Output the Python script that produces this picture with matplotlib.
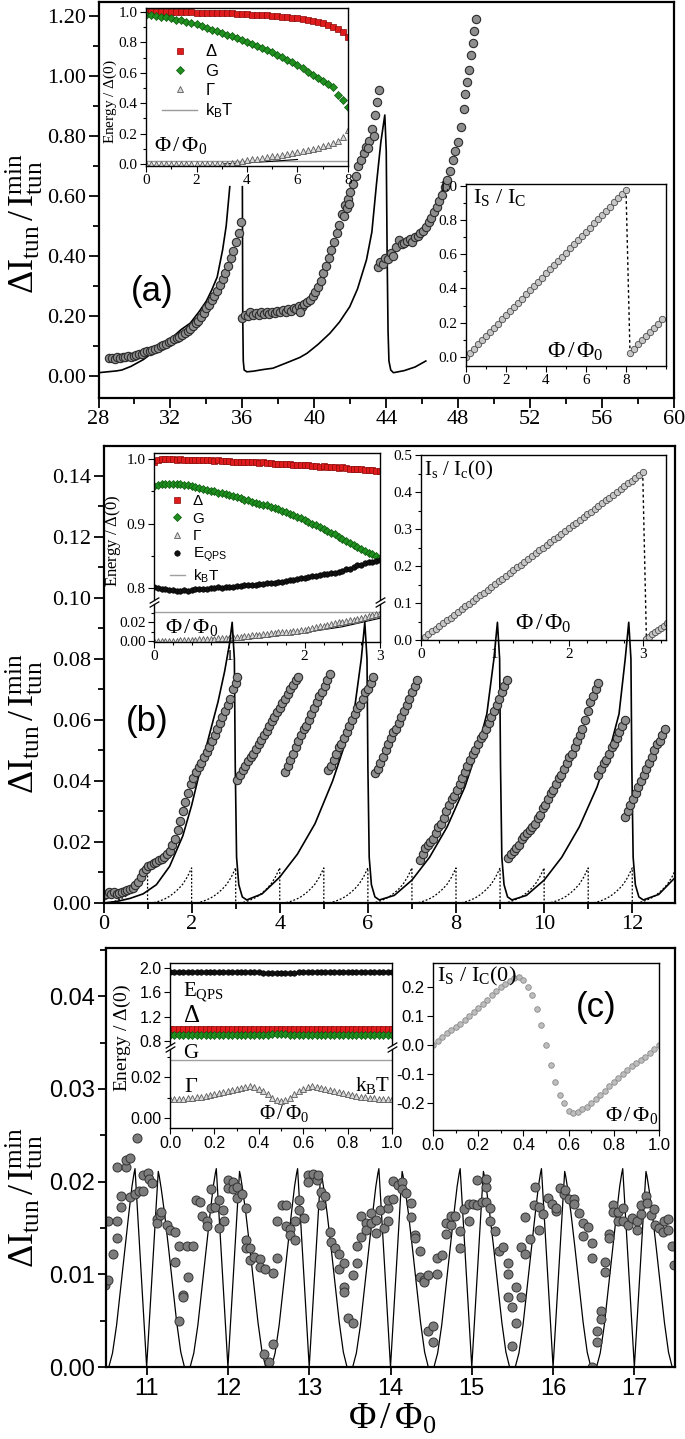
import numpy as np
import matplotlib
matplotlib.use("Agg")
import matplotlib.pyplot as plt
from matplotlib.ticker import MultipleLocator, FormatStrFormatter, FixedLocator
from matplotlib.font_manager import FontProperties

# ---------------- panel (a): main ----------------
a_x1 = [28.6, 28.75, 28.9, 29.05, 29.2, 29.35, 29.5, 29.65, 29.8, 29.95,
        30.1, 30.25, 30.4, 30.55, 30.7, 30.85, 31.0, 31.15, 31.3, 31.45,
        31.6, 31.75, 31.9, 32.05, 32.2, 32.35, 32.5, 32.65, 32.8, 32.95,
        33.1, 33.25, 33.4, 33.55, 33.7, 33.85, 34.0, 34.15, 34.3, 34.45,
        34.6, 34.75, 34.9, 35.05, 35.2, 35.35, 35.5, 35.65, 35.8, 35.95]
a_y1 = [0.059, 0.061, 0.058, 0.062, 0.060, 0.063, 0.062, 0.066, 0.064, 0.068,
        0.070, 0.072, 0.075, 0.079, 0.082, 0.084, 0.088, 0.090, 0.095, 0.100,
        0.104, 0.108, 0.112, 0.118, 0.122, 0.126, 0.131, 0.138, 0.142, 0.150,
        0.158, 0.166, 0.176, 0.184, 0.196, 0.210, 0.226, 0.238, 0.252, 0.268,
        0.284, 0.305, 0.322, 0.342, 0.368, 0.392, 0.418, 0.448, 0.478, 0.512]
a_x2 = [36.0, 36.15, 36.3, 36.45, 36.6, 36.75, 36.9, 37.05, 37.2, 37.35,
        37.5, 37.65, 37.8, 37.95, 38.1, 38.25, 38.4, 38.55, 38.7, 38.85,
        39.0, 39.15, 39.3, 39.45, 39.6, 39.75, 39.9, 40.05, 40.2, 40.35,
        40.5, 40.65, 40.8, 40.95, 41.1, 41.25, 41.4, 41.55, 41.7, 41.85,
        42.0, 42.15, 42.3, 42.45, 42.6, 42.75, 42.9, 43.05, 43.2, 43.35,
        43.5, 43.6, 41.65, 41.8, 41.95, 43.0, 43.3, 39.2]
a_y2 = [0.192, 0.205, 0.200, 0.212, 0.205, 0.210, 0.203, 0.215, 0.208, 0.212,
        0.206, 0.215, 0.210, 0.218, 0.212, 0.220, 0.214, 0.222, 0.216, 0.226,
        0.222, 0.232, 0.230, 0.240, 0.246, 0.255, 0.268, 0.280, 0.298, 0.318,
        0.342, 0.368, 0.392, 0.420, 0.448, 0.478, 0.505, 0.540, 0.570, 0.590,
        0.612, 0.640, 0.668, 0.700, 0.720, 0.745, 0.765, 0.785, 0.825, 0.870,
        0.915, 0.955, 0.535, 0.560, 0.575, 0.760, 0.800, 0.215]
a_x3 = [43.55, 43.65, 43.8, 43.95, 44.1, 44.25, 44.4, 44.55, 44.7, 44.85,
        45.0, 45.15, 45.3, 45.45, 45.6, 45.75, 45.9, 46.05, 46.2, 46.35,
        46.5, 46.65, 46.8, 46.95, 47.1, 47.25, 47.4, 47.55, 47.7, 47.85,
        48.0, 48.15, 48.3, 48.4, 48.5, 48.6, 48.7, 48.8, 48.9, 48.97]
a_y3 = [0.364, 0.380, 0.372, 0.395, 0.390, 0.410, 0.400, 0.430, 0.452, 0.440,
        0.445, 0.450, 0.458, 0.448, 0.462, 0.468, 0.476, 0.485, 0.498, 0.512,
        0.528, 0.546, 0.565, 0.585, 0.605, 0.630, 0.655, 0.685, 0.720, 0.750,
        0.780, 0.830, 0.890, 0.940, 0.980, 1.020, 1.070, 1.110, 1.150, 1.190]
nan = np.nan
a_line_x = [28.0, 28.5, 29.0, 29.3, 29.8, 30.5, 31.2, 31.9, 32.6, 33.1,
            33.6, 34.0, 34.3, 34.6, 34.9, 35.1, 35.3, nan,
            36.0, 36.02, 36.05, 36.1, 36.25, 36.6, 37.2, 37.7, 38.5, 39.2,
            39.6, 40.2, 40.86, 41.4, 41.97, 42.4, 42.9, 43.2, 43.46, 43.7,
            43.92, 44.0, 44.05, 44.1, 44.15, 44.25, 44.4, 45.0, 45.6, 46.2]
a_line_y = [0.011, 0.014, 0.017, 0.020, 0.032, 0.055, 0.087, 0.118, 0.155, 0.176,
            0.215, 0.250, 0.287, 0.330, 0.420, 0.500, 0.631, nan,
            0.631, 0.200, 0.050, 0.020, 0.014, 0.016, 0.022, 0.026, 0.045, 0.062,
            0.076, 0.105, 0.142, 0.180, 0.231, 0.290, 0.387, 0.480, 0.642, 0.780,
            0.870, 0.750, 0.400, 0.150, 0.050, 0.020, 0.011, 0.018, 0.030, 0.050]

# panel (a), inset with energies
a1_x = [0.0, 0.2, 0.4, 0.6, 0.8, 1.0, 1.2, 1.4, 1.6, 1.8,
        2.0, 2.2, 2.4, 2.6, 2.8, 3.0, 3.2, 3.4, 3.6, 3.8,
        4.0, 4.2, 4.4, 4.6, 4.8, 5.0, 5.2, 5.4, 5.6, 5.8,
        6.0, 6.2, 6.4, 6.6, 6.8, 7.0, 7.2, 7.4, 7.6, 7.8, 8.0]
a1_delta = [1.000, 1.000, 1.000, 0.999, 0.999, 0.999, 0.998, 0.998, 0.997, 0.997,
            0.996, 0.996, 0.995, 0.994, 0.993, 0.992, 0.991, 0.990, 0.988, 0.987,
            0.985, 0.983, 0.981, 0.979, 0.977, 0.974, 0.971, 0.968, 0.965, 0.961,
            0.957, 0.952, 0.947, 0.941, 0.934, 0.926, 0.916, 0.904, 0.888, 0.866, 0.838]
a1_g = [0.980, 0.978, 0.974, 0.970, 0.966, 0.960, 0.950, 0.944, 0.936, 0.928,
        0.918, 0.906, 0.895, 0.884, 0.872, 0.860, 0.850, 0.839, 0.828, 0.816,
        0.805, 0.792, 0.778, 0.765, 0.750, 0.735, 0.720, 0.705, 0.686, 0.668,
        0.650, 0.630, 0.608, 0.588, 0.566, 0.545, 0.526, 0.505, 0.455, 0.420, 0.377]
a1_gamma = [0.0, 0.0, 0.0, 0.0, 0.0, 0.0, 0.0, 0.0, 0.0, 0.0,
            0.0, 0.0, 0.0, 0.0, 0.0, 0.0, 0.003, 0.007, 0.012, 0.018,
            0.025, 0.030, 0.035, 0.040, 0.045, 0.050, 0.055, 0.060, 0.066, 0.072,
            0.078, 0.085, 0.092, 0.100, 0.108, 0.116, 0.125, 0.136, 0.150, 0.180, 0.225]
a1_kbt = 0.022
a1_thx = [3.0, 4.0, 5.0, 6.0]
a1_thy = [0.0, 0.008, 0.018, 0.030]

# panel (a), inset with supercurrent
a2_x1 = a1_x
a2_y1 = [0.000, 0.024, 0.049, 0.073, 0.098, 0.122, 0.146, 0.171, 0.195, 0.219,
         0.244, 0.268, 0.293, 0.317, 0.341, 0.366, 0.390, 0.414, 0.439, 0.463,
         0.488, 0.512, 0.536, 0.561, 0.585, 0.609, 0.634, 0.658, 0.683, 0.707,
         0.731, 0.756, 0.780, 0.804, 0.829, 0.853, 0.878, 0.902, 0.926, 0.951, 0.975]
a2_x2 = [8.2, 8.4, 8.6, 8.8, 9.0, 9.2, 9.4, 9.6, 9.8]
a2_y2 = [0.025, 0.049, 0.073, 0.098, 0.122, 0.146, 0.171, 0.195, 0.220]

# ---------------- panel (b): main ----------------
b_x = [0.00, 0.06, 0.12, 0.18, 0.24, 0.30, 0.36, 0.42, 0.48, 0.54,
       0.60, 0.66, 0.72, 0.78, 0.84, 0.90, 0.96, 1.02, 1.08, 1.14,
       1.20, 1.26, 1.32, 1.38, 1.44, 1.50, 1.56, 1.62, 1.68, 1.74,
       1.80, 1.86, 1.92, 1.98, 2.04, 2.10, 2.16, 2.22, 2.28, 2.34,
       2.40, 2.46, 2.52, 2.58, 2.64, 2.70, 2.76, 2.82, 2.88, 2.94,
       3.00, 3.04,
       3.04, 3.10, 3.16, 3.22, 3.28, 3.34, 3.40, 3.46, 3.52, 3.58,
       3.64, 3.70, 3.76, 3.82, 3.88, 3.94, 4.00, 4.06, 4.12, 4.18,
       4.24, 4.30, 4.36, 4.42,
       4.12, 4.18, 4.24, 4.30, 4.36, 4.42, 4.48, 4.54, 4.60, 4.66,
       4.72, 4.78, 4.84, 4.90, 4.96, 5.02, 5.08, 5.14,
       5.10, 5.16, 5.22, 5.28, 5.34, 5.40, 5.46, 5.52, 5.58, 5.64,
       5.70, 5.76, 5.82, 5.88, 5.94, 6.00, 6.06, 6.12,
       6.16, 6.22, 6.28, 6.34, 6.40, 6.46, 6.52, 6.58, 6.64, 6.70,
       6.76, 6.82, 6.88, 6.94, 7.00, 7.06, 7.12,
       7.18, 7.24, 7.30, 7.36, 7.42, 7.48, 7.54, 7.60, 7.66, 7.72,
       7.78, 7.84, 7.90, 7.96, 8.02, 8.08, 8.14, 8.20, 8.26, 8.32,
       8.38, 8.44, 8.50, 8.56, 8.62, 8.68, 8.74, 8.80, 8.86, 8.92,
       8.98, 9.04, 9.10, 9.16,
       9.19, 9.25, 9.31, 9.37, 9.43, 9.49, 9.55, 9.61, 9.67, 9.73,
       9.79, 9.85, 9.91, 9.97, 10.03, 10.09, 10.15, 10.21, 10.27, 10.33,
       10.39, 10.45, 10.51, 10.57, 10.63, 10.69, 10.75, 10.81, 10.87, 10.93,
       10.99, 11.05, 11.11, 11.17, 11.23,
       11.23, 11.29, 11.35, 11.41, 11.47, 11.53, 11.59, 11.65, 11.71, 11.77, 11.83,
       11.84, 11.90, 11.96, 12.02, 12.08, 12.14, 12.20, 12.26, 12.32, 12.38,
       12.44, 12.50, 12.56, 12.62, 12.68, 12.74]
b_y = [0.0025, 0.0030, 0.0036, 0.0028, 0.0035, 0.0030, 0.0033, 0.0036, 0.0040, 0.0042,
       0.0045, 0.0050, 0.0060, 0.0070, 0.0085, 0.0100, 0.0110, 0.0120, 0.0125, 0.0130,
       0.0135, 0.0140, 0.0145, 0.0150, 0.0160, 0.0170, 0.0190, 0.0210, 0.0240, 0.0270,
       0.0300, 0.0330, 0.0360, 0.0390, 0.0410, 0.0430, 0.0445, 0.0460, 0.0480, 0.0495,
       0.0510, 0.0530, 0.0550, 0.0570, 0.0590, 0.0610, 0.0630, 0.0650, 0.0670, 0.0700,
       0.0720, 0.0740,
       0.0403, 0.0420, 0.0435, 0.0450, 0.0465, 0.0480, 0.0490, 0.0505, 0.0520, 0.0535,
       0.0550, 0.0565, 0.0580, 0.0595, 0.0610, 0.0625, 0.0640, 0.0655, 0.0670, 0.0685,
       0.0700, 0.0715, 0.0730, 0.0740,
       0.043, 0.045, 0.047, 0.049, 0.051, 0.053, 0.055, 0.057, 0.058, 0.060,
       0.062, 0.064, 0.066, 0.068, 0.069, 0.071, 0.073, 0.075,
       0.0436, 0.045, 0.047, 0.049, 0.051, 0.052, 0.054, 0.056, 0.058, 0.060,
       0.062, 0.064, 0.065, 0.067, 0.069, 0.070, 0.072, 0.074,
       0.0425, 0.044, 0.046, 0.048, 0.050, 0.052, 0.054, 0.056, 0.057, 0.059,
       0.061, 0.063, 0.065, 0.067, 0.069, 0.071, 0.073,
       0.014, 0.016, 0.018, 0.019, 0.020, 0.021, 0.023, 0.025, 0.026, 0.028,
       0.030, 0.032, 0.034, 0.035, 0.037, 0.039, 0.041, 0.043, 0.045, 0.047,
       0.049, 0.050, 0.052, 0.054, 0.055, 0.057, 0.059, 0.061, 0.063, 0.065,
       0.067, 0.069, 0.071, 0.073,
       0.0147, 0.016, 0.017, 0.018, 0.019, 0.021, 0.022, 0.023, 0.024, 0.025,
       0.026, 0.028, 0.029, 0.031, 0.032, 0.034, 0.036, 0.037, 0.039, 0.041,
       0.042, 0.044, 0.046, 0.048, 0.049, 0.051, 0.053, 0.055, 0.057, 0.060,
       0.063, 0.066, 0.068, 0.070, 0.072,
       0.042, 0.044, 0.046, 0.047, 0.049, 0.051, 0.052, 0.054, 0.056, 0.058, 0.060,
       0.0283, 0.030, 0.032, 0.034, 0.036, 0.038, 0.040, 0.042, 0.044, 0.046,
       0.048, 0.050, 0.052, 0.053, 0.055, 0.057]
b_line_x = [0.0, 0.3, 0.6, 0.9, 1.2, 1.5, 1.8, 2.0, 2.2, 2.4,
            2.6, 2.75, 2.86, 2.92, 2.97, 2.99, 3.02, 3.07, 3.15, 3.25,
            3.6, 4.0, 4.4, 4.8, 5.2, 5.5, 5.7, 5.85, 5.93, 5.98, 6.00, 6.03, 6.08, 6.16, 6.26,
            6.6, 7.0, 7.4, 7.8, 8.2, 8.5, 8.7, 8.86, 8.94, 8.99, 9.01, 9.04, 9.09, 9.17, 9.27,
            9.6, 10.0, 10.4, 10.8, 11.2, 11.5, 11.7, 11.84, 11.92, 11.97, 11.99, 12.02, 12.07, 12.15, 12.25,
            12.6, 12.95]
b_line_y = [0.0, 0.0005, 0.0015, 0.003, 0.006, 0.012, 0.022, 0.032, 0.044, 0.055,
            0.066, 0.076, 0.085, 0.092, 0.080, 0.045, 0.015, 0.006, 0.002, 0.001,
            0.003, 0.0085, 0.016, 0.026, 0.040, 0.053, 0.064, 0.080, 0.092, 0.080, 0.045, 0.015, 0.006, 0.002, 0.001,
            0.0025, 0.0075, 0.015, 0.025, 0.038, 0.051, 0.062, 0.080, 0.092, 0.080, 0.045, 0.015, 0.006, 0.002, 0.001,
            0.0025, 0.0075, 0.015, 0.025, 0.038, 0.051, 0.062, 0.080, 0.092, 0.080, 0.045, 0.015, 0.006, 0.002, 0.001,
            0.0028, 0.008]
b_dot_dx = [0.0, 0.1, 0.2, 0.3, 0.4, 0.5, 0.6, 0.7, 0.8, 0.9, 1.0]
b_dot_y = [0.0, 0.0, 0.0003, 0.0008, 0.0014, 0.0022, 0.0033, 0.0046, 0.0062, 0.0085, 0.0115]
b_dot_periods = [0, 1, 2, 3, 4, 5, 6, 7, 8, 9, 10, 11, 12]

# panel (b), inset with energies (broken axis)
b1_x = [0.00, 0.05, 0.10, 0.15, 0.20, 0.25, 0.30, 0.35, 0.40, 0.45,
        0.50, 0.55, 0.60, 0.65, 0.70, 0.75, 0.80, 0.85, 0.90, 0.95,
        1.00, 1.05, 1.10, 1.15, 1.20, 1.25, 1.30, 1.35, 1.40, 1.45,
        1.50, 1.55, 1.60, 1.65, 1.70, 1.75, 1.80, 1.85, 1.90, 1.95,
        2.00, 2.05, 2.10, 2.15, 2.20, 2.25, 2.30, 2.35, 2.40, 2.45,
        2.50, 2.55, 2.60, 2.65, 2.70, 2.75, 2.80, 2.85, 2.90, 2.95, 3.00]
b1_delta = [0.996, 0.998, 1.000, 1.000, 1.000, 1.000, 0.999, 1.000, 0.999, 0.999,
            0.999, 0.998, 0.999, 0.998, 0.998, 0.998, 0.997, 0.998, 0.997, 0.997,
            0.997, 0.996, 0.996, 0.996, 0.995, 0.996, 0.995, 0.995, 0.994, 0.995,
            0.994, 0.994, 0.993, 0.993, 0.993, 0.992, 0.992, 0.991, 0.991, 0.991,
            0.990, 0.990, 0.989, 0.989, 0.988, 0.989, 0.988, 0.987, 0.987, 0.986,
            0.987, 0.986, 0.985, 0.985, 0.984, 0.984, 0.983, 0.983, 0.983, 0.982, 0.982]
b1_g = [0.958, 0.960, 0.961, 0.962, 0.962, 0.962, 0.962, 0.961, 0.960, 0.959,
        0.958, 0.957, 0.955, 0.954, 0.952, 0.951, 0.950, 0.948, 0.947, 0.946,
        0.944, 0.943, 0.941, 0.939, 0.937, 0.936, 0.934, 0.932, 0.931, 0.929,
        0.928, 0.926, 0.924, 0.922, 0.920, 0.918, 0.915, 0.913, 0.910, 0.908,
        0.905, 0.903, 0.900, 0.898, 0.895, 0.892, 0.889, 0.886, 0.883, 0.879,
        0.876, 0.873, 0.870, 0.867, 0.864, 0.861, 0.858, 0.855, 0.852, 0.849, 0.846]
b1_eqps = [0.801, 0.800, 0.799, 0.798, 0.797, 0.797, 0.796, 0.796, 0.797, 0.796,
           0.797, 0.798, 0.799, 0.798, 0.799, 0.800, 0.800, 0.801, 0.800, 0.801,
           0.802, 0.802, 0.803, 0.803, 0.804, 0.804, 0.805, 0.805, 0.806, 0.806,
           0.807, 0.808, 0.808, 0.810, 0.810, 0.811, 0.812, 0.813, 0.814, 0.815,
           0.816, 0.817, 0.818, 0.819, 0.820, 0.821, 0.822, 0.823, 0.824, 0.825,
           0.827, 0.829, 0.830, 0.832, 0.835, 0.836, 0.838, 0.840, 0.841, 0.842, 0.843]
b1_gamma = [0.000, 0.000, 0.000, 0.000, 0.000, 0.000, 0.000, 0.001, 0.001, 0.001,
            0.001, 0.001, 0.002, 0.002, 0.002, 0.002, 0.002, 0.003, 0.003, 0.003,
            0.003, 0.004, 0.004, 0.004, 0.005, 0.005, 0.006, 0.006, 0.006, 0.007,
            0.007, 0.008, 0.008, 0.009, 0.009, 0.010, 0.010, 0.011, 0.011, 0.012,
            0.012, 0.013, 0.014, 0.015, 0.016, 0.016, 0.017, 0.018, 0.019, 0.020,
            0.020, 0.021, 0.022, 0.022, 0.023, 0.024, 0.025, 0.026, 0.027, 0.028, 0.029]
b1_kbt = 0.0305
b1_thx = [1.0, 1.5, 2.0, 2.5, 3.0]
b1_thy = [0.0, 0.004, 0.009, 0.015, 0.024]

# panel (b), inset with supercurrent
b2_x1 = b1_x
b2_y1 = [0.000, 0.008, 0.015, 0.023, 0.030, 0.038, 0.045, 0.053, 0.060, 0.068,
         0.076, 0.083, 0.091, 0.098, 0.106, 0.113, 0.121, 0.128, 0.136, 0.143,
         0.151, 0.159, 0.166, 0.174, 0.181, 0.189, 0.196, 0.204, 0.211, 0.219,
         0.227, 0.234, 0.242, 0.249, 0.257, 0.264, 0.272, 0.279, 0.287, 0.294,
         0.302, 0.310, 0.317, 0.325, 0.332, 0.340, 0.347, 0.355, 0.362, 0.370,
         0.378, 0.385, 0.393, 0.400, 0.408, 0.415, 0.423, 0.430, 0.438, 0.445, 0.453]
b2_x2 = [3.05, 3.09, 3.13, 3.17, 3.21, 3.25, 3.29, 3.33]
b2_y2 = [0.003, 0.009, 0.015, 0.021, 0.027, 0.033, 0.039, 0.045]

# ---------------- panel (c): main ----------------
c_x = [10.49, 10.53, 10.53, 10.58, 10.63, 10.63, 10.63, 10.69, 10.69, 10.75,
       10.75, 10.80, 10.79, 10.86, 10.88, 10.91, 10.96, 10.96, 11.02, 11.03,
       11.07, 11.13, 11.13, 11.16, 11.18, 11.25, 11.29, 11.35, 11.35, 11.40,
       11.40, 11.45, 11.45, 11.51, 11.50, 11.57, 11.61, 11.66, 11.68, 11.74,
       11.74, 11.79, 11.79, 11.84, 11.89, 11.89, 11.94, 11.95, 12.00, 12.00,
       12.06, 12.06, 12.11, 12.11, 12.17, 12.22, 12.22, 12.22, 12.27, 12.27,
       12.32, 12.39, 12.39, 12.45, 12.44, 12.50, 12.55, 12.55, 12.60, 12.60,
       12.66, 12.71, 12.71, 12.76, 12.76, 12.82, 12.82, 12.87, 12.87, 12.93,
       12.98, 12.98, 13.05, 13.10, 13.11, 13.15, 13.15, 13.20, 13.25, 13.27,
       13.32, 13.37, 13.37, 13.43, 13.43, 13.43, 13.48, 13.54, 13.54, 13.59,
       13.59, 13.64, 13.64, 13.70, 13.70, 13.76, 13.76, 13.82, 13.82, 13.87,
       13.92, 13.97, 13.97, 13.97, 14.03, 14.03, 14.09, 14.14, 14.14, 14.19,
       14.25, 14.25, 14.30, 14.30, 14.36, 14.36, 14.41, 14.41, 14.46, 14.46,
       14.52, 14.52, 14.57, 14.57, 14.63, 14.68, 14.68, 14.74, 14.74, 14.79,
       14.85, 14.85, 14.90, 14.96, 14.96, 15.01, 15.07, 15.07, 15.12, 15.17,
       15.17, 15.17, 15.23, 15.23, 15.28, 15.34, 15.39, 15.45, 15.45, 15.45,
       15.50, 15.50, 15.55, 15.55, 15.60, 15.60, 15.66, 15.66, 15.72, 15.77,
       15.78, 15.83, 15.83, 15.88, 15.94, 15.99, 16.04, 16.04, 16.09, 16.13,
       16.15, 16.19, 16.26, 16.26, 16.32, 16.37, 16.37, 16.43, 16.48, 16.48,
       16.48, 16.54, 16.54, 16.59, 16.59, 16.64, 16.64, 16.69, 16.69, 16.74,
       16.74, 16.80, 16.80, 16.86, 16.86, 16.92, 16.97, 17.03, 17.03, 17.08,
       17.08, 17.14, 17.16, 17.20, 17.24, 17.25, 17.30, 17.36, 17.41, 17.35,
       17.41, 17.46, 17.49]
c_y = [0.0088, 0.0094, 0.0157, 0.0122, 0.0157, 0.0139, 0.0216, 0.0173, 0.0184, 0.0216,
       0.0223, 0.0225, 0.0183, 0.0187, 0.0247, 0.0190, 0.0190, 0.0207, 0.0209, 0.0203,
       0.0198, 0.0160, 0.0155, 0.0164, 0.0167, 0.0153, 0.0148, 0.0146, 0.0113, 0.0131,
       0.0050, 0.0078, 0.0075, 0.0097, 0.0131, 0.0131, 0.0180, 0.0178, 0.0163, 0.0158,
       0.0152, 0.0192, 0.0171, 0.0173, 0.0180, 0.0150, 0.0169, 0.0158, 0.0202, 0.0193,
       0.0200, 0.0192, 0.0194, 0.0182, 0.0187, 0.0171, 0.0137, 0.0128, 0.0128, 0.0115,
       0.0119, 0.0117, 0.0108, 0.0106, 0.0014, 0.0005, 0.0025, 0.0101, 0.0118, 0.0158,
       0.0175, 0.0175, 0.0152, 0.0149, 0.0142, 0.0137, 0.0158, 0.0169, 0.0180, 0.0161,
       0.0207, 0.0200, 0.0208, 0.0202, 0.0207, 0.0189, 0.0175, 0.0185, 0.0146, 0.0135,
       0.0128, 0.0122, 0.0106, 0.0112, 0.0086, 0.0081, 0.0053, 0.0047, 0.0099, 0.0112,
       0.0131, 0.0140, 0.0163, 0.0155, 0.0148, 0.0166, 0.0155, 0.0159, 0.0145, 0.0169,
       0.0150, 0.0171, 0.0158, 0.0180, 0.0181, 0.0201, 0.0196, 0.0200, 0.0192, 0.0188,
       0.0177, 0.0162, 0.0142, 0.0139, 0.0125, 0.0097, 0.0094, 0.0092, 0.0099, 0.0039,
       0.0044, 0.0027, 0.0100, 0.0118, 0.0121, 0.0143, 0.0155, 0.0153, 0.0163, 0.0163,
       0.0147, 0.0128, 0.0170, 0.0176, 0.0157, 0.0176, 0.0175, 0.0202, 0.0178, 0.0178,
       0.0194, 0.0203, 0.0172, 0.0157, 0.0147, 0.0125, 0.0129, 0.0112, 0.0100, 0.0075,
       0.0065, 0.0023, 0.0086, 0.0048, 0.0075, 0.0129, 0.0122, 0.0162, 0.0138, 0.0175,
       0.0194, 0.0148, 0.0173, 0.0165, 0.0182, 0.0176, 0.0168, 0.0171, 0.0193, 0.0187,
       0.0191, 0.0181, 0.0181, 0.0176, 0.0166, 0.0155, 0.0141, 0.0151, 0.0134, 0.0118,
       0.0000, 0.0039, 0.0027, 0.0060, 0.0052, 0.0113, 0.0102, 0.0143, 0.0139, 0.0175,
       0.0167, 0.0158, 0.0167, 0.0157, 0.0172, 0.0153, 0.0161, 0.0148, 0.0158, 0.0165,
       0.0175, 0.0185, 0.0177, 0.0164, 0.0170, 0.0153, 0.0150, 0.0157, 0.0160, 0.0146,
       0.0148, 0.0130, 0.0110]
# theory curve: same shape in every flux period
c_line_dx = [-0.5, -0.465, -0.42, -0.37, -0.32, -0.27, -0.22, -0.18, -0.155, -0.143,
             -0.12, -0.09, -0.05, 0.0, 0.05, 0.09, 0.12, 0.143, 0.155, 0.18,
             0.22, 0.27, 0.32, 0.37, 0.42, 0.465, 0.5]
c_line_y = [0.0, 0.0, 0.0015, 0.0045, 0.0085, 0.0125, 0.0165, 0.0195, 0.0209, 0.0214,
            0.0180, 0.0135, 0.0075, 0.0, 0.0075, 0.0135, 0.0178, 0.0211, 0.0206, 0.0192,
            0.0166, 0.0128, 0.0088, 0.0048, 0.0016, 0.0, 0.0]
c_line_periods = [11, 12, 13, 14, 15, 16, 17]

# panel (c), inset with energies (broken axis)
c1_x = [0.00, 0.02, 0.04, 0.06, 0.08, 0.10, 0.12, 0.14, 0.16, 0.18,
        0.20, 0.22, 0.24, 0.26, 0.28, 0.30, 0.32, 0.34, 0.36, 0.38,
        0.40, 0.42, 0.44, 0.46, 0.48, 0.50, 0.52, 0.54, 0.56, 0.58,
        0.60, 0.62, 0.64, 0.66, 0.68, 0.70, 0.72, 0.74, 0.76, 0.78,
        0.80, 0.82, 0.84, 0.86, 0.88, 0.90, 0.92, 0.94, 0.96, 0.98, 1.00]
c1_eqps = [1.935, 1.930, 1.930, 1.928, 1.930, 1.932, 1.930, 1.930, 1.928, 1.930,
           1.932, 1.930, 1.930, 1.932, 1.935, 1.935, 1.932, 1.930, 1.930, 1.928,
           1.925, 1.922, 1.920, 1.918, 1.915, 1.915, 1.915, 1.918, 1.920, 1.925,
           1.928, 1.930, 1.932, 1.932, 1.935, 1.935, 1.932, 1.930, 1.930, 1.930,
           1.928, 1.930, 1.930, 1.932, 1.930, 1.930, 1.928, 1.930, 1.930, 1.930, 1.930]
c1_delta = [0.995, 0.995, 0.996, 0.995, 0.995, 0.994, 0.995, 0.995, 0.996, 0.995,
            0.995, 0.995, 0.994, 0.995, 0.995, 0.996, 0.995, 0.995, 0.995, 0.996,
            0.998, 1.000, 1.002, 1.004, 1.006, 1.006, 1.004, 1.002, 1.000, 0.998,
            0.996, 0.995, 0.995, 0.995, 0.994, 0.995, 0.995, 0.996, 0.995, 0.995,
            0.995, 0.994, 0.995, 0.995, 0.996, 0.995, 0.995, 0.995, 0.994, 0.995, 0.995]
c1_g = [0.900, 0.901, 0.900, 0.899, 0.900, 0.901, 0.900, 0.900, 0.899, 0.900,
        0.901, 0.900, 0.900, 0.900, 0.901, 0.902, 0.901, 0.900, 0.900, 0.902,
        0.904, 0.906, 0.908, 0.910, 0.912, 0.912, 0.910, 0.908, 0.906, 0.904,
        0.902, 0.900, 0.900, 0.901, 0.900, 0.899, 0.900, 0.901, 0.900, 0.900,
        0.899, 0.900, 0.901, 0.900, 0.900, 0.899, 0.900, 0.901, 0.900, 0.900, 0.900]
c1_gamma = [0.0092, 0.0092, 0.0093, 0.0094, 0.0096, 0.0098, 0.0101, 0.0104, 0.0108, 0.0112,
            0.0116, 0.0121, 0.0126, 0.0131, 0.0137, 0.0142, 0.0148, 0.0153, 0.0156, 0.0152,
            0.0143, 0.0130, 0.0115, 0.0100, 0.0089, 0.0085, 0.0089, 0.0100, 0.0115, 0.0130,
            0.0143, 0.0152, 0.0156, 0.0153, 0.0148, 0.0142, 0.0137, 0.0131, 0.0126, 0.0121,
            0.0116, 0.0112, 0.0108, 0.0104, 0.0101, 0.0098, 0.0096, 0.0094, 0.0093, 0.0092, 0.0092]
c1_kbt = 0.0283

# panel (c), inset with current-phase relation
c2_x = c1_x
c2_y = [0.000, 0.014, 0.028, 0.040, 0.051, 0.062, 0.073, 0.085, 0.099, 0.113,
        0.127, 0.142, 0.157, 0.172, 0.187, 0.200, 0.212, 0.222, 0.230, 0.233,
        0.226, 0.201, 0.172, 0.126, 0.069, 0.000, -0.069, -0.126, -0.172, -0.201,
        -0.226, -0.233, -0.230, -0.222, -0.212, -0.200, -0.187, -0.172, -0.157, -0.142,
        -0.127, -0.113, -0.099, -0.085, -0.073, -0.062, -0.051, -0.040, -0.028, -0.014, 0.000]

# ---------------- styling ----------------
W, H = 685, 1439
SERIF = ['Liberation Serif', 'DejaVu Serif']
SANS = ['Liberation Sans', 'DejaVu Sans']

plt.rcParams['font.family'] = SERIF
plt.rcParams['mathtext.fontset'] = 'custom'
plt.rcParams['mathtext.rm'] = 'Liberation Serif'
plt.rcParams['mathtext.it'] = 'Liberation Serif:italic'
plt.rcParams['mathtext.bf'] = 'Liberation Serif:bold'
plt.rcParams['mathtext.sf'] = 'Liberation Sans'

DOT = dict(ls='none', marker='o', mfc='#8e8e8e', mec='#2b2b2b', mew=0.8)
RED = dict(ls='none', marker='s', mfc='#e01b1b', mec='#8a0c0c', mew=0.5)
GREEN = dict(ls='none', marker='D', mfc='#1f8f1f', mec='#0c560c', mew=0.5)
TRI = dict(ls='none', marker='^', mfc='#d8d8d8', mec='#5a5a5a', mew=0.6)
BLACK = dict(ls='none', marker='o', mfc='#111111', mec='#000000', mew=0.4)
LIGHT = dict(ls='none', marker='o', mfc='#c6c6c6', mec='#4a4a4a', mew=0.6)

YLABEL = r'$\Delta\mathrm{I}_{\mathrm{tun}}\,/\,\mathrm{I}_{\mathrm{tun}}^{\mathrm{min}}$'
PHI = r'$\Phi\,/\,\Phi_0$'

fig = plt.figure(figsize=(W / 100, H / 100), dpi=100)


def rect(l, t, r, b):
    return [l / W, 1 - b / H, (r - l) / W, (b - t) / H]


def ftext(x, y, s, **kw):
    fig.text(x / W, 1 - y / H, s, **kw)


def frame(ax, lw, major, minor, size, family):
    for sp in ax.spines.values():
        sp.set_linewidth(lw)
    ax.tick_params(which='both', direction='out', top=False, right=False,
                   width=lw * 0.8, labelsize=size, labelfontfamily=family, pad=2)
    ax.tick_params(which='major', length=major)
    ax.tick_params(which='minor', length=minor)


def ticks(ax, axis, major, minor, fmt):
    a = ax.xaxis if axis == 'x' else ax.yaxis
    a.set_major_locator(MultipleLocator(major))
    if minor:
        a.set_minor_locator(MultipleLocator(minor))
    a.set_major_formatter(FormatStrFormatter(fmt))


def break_marks(top, bottom):
    kw = dict(marker=[(-1, -0.6), (1, 0.6)], markersize=7, linestyle='none',
              color='k', mec='k', mew=0.9, clip_on=False)
    top.plot([0, 1], [0, 0], transform=top.transAxes, **kw)
    bottom.plot([0, 1], [1, 1], transform=bottom.transAxes, **kw)


def split_axes(box_top, box_bot):
    top = fig.add_axes(rect(*box_top))
    bot = fig.add_axes(rect(*box_bot))
    top.spines['bottom'].set_visible(False)
    bot.spines['top'].set_visible(False)
    return top, bot


# ---------------- (a) ----------------
ax = fig.add_axes(rect(98.5, 2, 674, 398))
ax.plot(a_line_x, a_line_y, color='k', lw=1.2)
ax.plot(a_x1 + a_x2 + a_x3, a_y1 + a_y2 + a_y3, ms=6, **DOT)
ax.set_xlim(28, 60)
ax.set_ylim(-0.0733, 1.2467)
frame(ax, 1.6, 7, 4, 16, SERIF)
ticks(ax, 'x', 4, 2, '%d')
ticks(ax, 'y', 0.2, 0.1, '%.2f')
ftext(152, 292, '(a)', family=SANS, fontsize=25, ha='center', va='center')
ftext(24, 224, YLABEL, fontsize=26, rotation=90, ha='center', va='center')

a1 = fig.add_axes(rect(146, 8, 348, 166))
a1.axhline(a1_kbt, color='#9a9a9a', lw=1.0)
a1.plot(a1_thx, a1_thy, color='k', lw=0.8)
hd, = a1.plot(a1_x, a1_delta, ms=3.8, **RED)
hg, = a1.plot(a1_x, a1_g, ms=3.6, **GREEN)
ht, = a1.plot(a1_x, a1_gamma, ms=4.2, **TRI)
hk, = a1.plot([], [], color='#9a9a9a', lw=1.0)
a1.set_xlim(0, 8)
a1.set_ylim(-0.013, 1.026)
frame(a1, 1.0, 4, 2, 11, SERIF)
ticks(a1, 'x', 2, 1, '%d')
ticks(a1, 'y', 0.2, 0.1, '%.1f')
a1.legend([hd, hg, ht, hk], ['Δ', 'G', 'Γ', r'k$_\mathsf{B}$T'], loc='upper left',
          bbox_to_anchor=(0.08, 0.77), frameon=False, numpoints=1,
          prop=FontProperties(family=SANS, size=12), handlelength=2.1,
          handletextpad=0.5, labelspacing=0.25, borderpad=0, borderaxespad=0)
ftext(110, 102, r'Energy / $\Delta$(0)', fontsize=11, rotation=90, ha='center', va='center')
ftext(181, 145, PHI, fontsize=16, ha='center', va='center')

a2 = fig.add_axes(rect(466, 184, 666, 366))
a2.plot([a2_x1[-1], a2_x2[0]], [a2_y1[-1], a2_y2[0]], color='k', lw=1.0, ls=(0, (2, 2)))
a2.plot(a2_x1 + a2_x2, a2_y1 + a2_y2, ms=4.6, **LIGHT)
a2.set_xlim(0, 10)
a2.set_ylim(-0.0526, 1.01)
frame(a2, 1.0, 4, 2, 11, SERIF)
a2.xaxis.set_major_locator(FixedLocator([0, 2, 4, 6, 8]))
a2.xaxis.set_minor_locator(MultipleLocator(1))
a2.xaxis.set_major_formatter(FormatStrFormatter('%d'))
ticks(a2, 'y', 0.2, 0.1, '%.1f')
ftext(473, 197, r'I$_\mathrm{S}$ / I$_\mathrm{C}$', fontsize=16, ha='left', va='center')
ftext(575, 352, PHI, fontsize=17, ha='center', va='center')

# ---------------- (b) ----------------
bx = fig.add_axes(rect(103.5, 446, 675, 903))
bx.set_zorder(5)
bx.patch.set_visible(False)
dot_x, dot_y = [], []
for n in b_dot_periods:
    dot_x += [n + d for d in b_dot_dx] + [n + 1]
    dot_y += b_dot_y + [0.0]
bx.plot(dot_x, dot_y, color='k', lw=0.9, ls=(0, (1.5, 1.5)))
bx.plot(b_line_x, b_line_y, color='k', lw=1.2)
bx.plot(b_x, b_y, ms=6, **DOT)
bx.set_xlim(0, 12.97)
bx.set_ylim(0, 0.1498)
frame(bx, 1.6, 7, 4, 16, SERIF)
ticks(bx, 'x', 2, 1, '%d')
ticks(bx, 'y', 0.02, 0.01, '%.2f')
ftext(147, 721, '(b)', family=SANS, fontsize=25, ha='center', va='center')
ftext(24, 724, YLABEL, fontsize=26, rotation=90, ha='center', va='center')

b1t, b1b = split_axes((154, 453, 380, 600), (154, 604, 380, 642))
for a in (b1t, b1b):
    a.set_zorder(1)
hd, = b1t.plot(b1_x, b1_delta, ms=3.8, **RED)
hg, = b1t.plot(b1_x, b1_g, ms=3.8, **GREEN)
he, = b1t.plot(b1_x, b1_eqps, ms=4.0, **BLACK)
b1b.axhline(b1_kbt, color='#a0a0a0', lw=1.0)
b1b.plot(b1_thx, b1_thy, color='k', lw=0.8)
ht, = b1b.plot(b1_x, b1_gamma, ms=4.0, **TRI)
hk, = b1t.plot([], [], color='#a0a0a0', lw=1.0)
for a in (b1t, b1b):
    a.set_xlim(0, 3)
    frame(a, 1.0, 4, 2, 11, SERIF)
    ticks(a, 'x', 1, 0.25, '%d')
b1t.tick_params(which='both', bottom=False, labelbottom=False)
b1t.set_ylim(0.7814, 1.0093)
b1t.yaxis.set_major_locator(FixedLocator([0.8, 0.9, 1.0]))
b1t.yaxis.set_minor_locator(MultipleLocator(0.05))
b1t.yaxis.set_major_formatter(FormatStrFormatter('%.1f'))
b1b.set_ylim(-0.00105, 0.039)
ticks(b1b, 'y', 0.02, 0.01, '%.2f')
break_marks(b1t, b1b)
b1t.legend([hd, hg, ht, he, hk], ['Δ', 'G', 'Γ', r'E$_\mathsf{QPS}$', r'k$_\mathsf{B}$T'],
           loc='upper left', bbox_to_anchor=(0.07, 0.72), frameon=False, numpoints=1,
           prop=FontProperties(family=SANS, size=11), handlelength=1.0,
           handletextpad=0.5, labelspacing=0.22, borderpad=0, borderaxespad=0)
ftext(113, 541, r'Energy / $\Delta$(0)', fontsize=12, rotation=90, ha='center', va='center')
ftext(192, 627, PHI, fontsize=16, ha='center', va='center')

b2 = fig.add_axes(rect(421, 455, 666, 640))
b2.set_zorder(1)
b2.plot([b2_x1[-1], b2_x2[0]], [b2_y1[-1], b2_y2[0]], color='k', lw=1.0, ls=(0, (2, 2)))
b2.plot(b2_x1 + b2_x2, b2_y1 + b2_y2, ms=4.6, **LIGHT)
b2.set_xlim(0, 3.315)
b2.set_ylim(0, 0.5)
frame(b2, 1.0, 4, 2, 11, SERIF)
ticks(b2, 'x', 1, 0.25, '%d')
ticks(b2, 'y', 0.1, 0.05, '%.1f')
ftext(424, 470, r'I$_\mathrm{s}$ / I$_\mathrm{c}$(0)', fontsize=15, ha='left', va='center')
ftext(543, 624, PHI, fontsize=17, ha='center', va='center')

# ---------------- (c) ----------------
cx = fig.add_axes(rect(106, 948, 675, 1367))
line_x, line_y = [], []
for n in c_line_periods:
    line_x += [n + d for d in c_line_dx]
    line_y += c_line_y
cx.plot(line_x, line_y, color='k', lw=0.9)
cx.plot(c_x, c_y, ms=6.5, ls='none', marker='o', mfc='#7c7c7c', mec='#333333', mew=0.7)
cx.set_xlim(10.5, 17.5)
cx.set_ylim(0, 0.0452)
frame(cx, 1.6, 6, 4, 17, SANS)
ticks(cx, 'x', 1, None, '%d')
ticks(cx, 'y', 0.01, 0.005, '%.2f')
ftext(24, 1198, YLABEL, fontsize=26, rotation=90, ha='center', va='center')
ftext(392, 1437, PHI, fontsize=27, ha='center', va='bottom')

c1t, c1b = split_axes((170, 963, 392, 1045), (170, 1049, 392, 1128))
c1t.plot(c1_x, c1_eqps, ms=4.0, **BLACK)
c1t.plot(c1_x, c1_delta, ms=4.4, **RED)
c1t.plot(c1_x, c1_g, ms=4.4, **GREEN)
c1b.axhline(c1_kbt, color='#a0a0a0', lw=1.0)
c1b.plot(c1_x, c1_gamma, ms=5.0, **TRI)
for a in (c1t, c1b):
    a.set_xlim(0, 1)
    frame(a, 1.0, 4, 2, 11.5, SANS)
    ticks(a, 'x', 0.2, 0.1, '%.1f')
c1t.tick_params(which='both', bottom=False, labelbottom=False)
c1t.set_ylim(0.736, 2.08)
c1t.yaxis.set_major_locator(FixedLocator([0.8, 1.2, 1.6, 2.0]))
c1t.yaxis.set_major_formatter(FormatStrFormatter('%.1f'))
c1b.set_ylim(-0.0049, 0.0337)
ticks(c1b, 'y', 0.02, 0.01, '%.2f')
break_marks(c1t, c1b)
ftext(122, 1038, r'Energy / $\Delta$(0)', fontsize=14, rotation=90, ha='center', va='center')
ftext(183, 992, r'E$_\mathrm{QPS}$', fontsize=15, ha='left', va='center')
ftext(184, 1016, 'Δ', fontsize=18, ha='left', va='center')
ftext(183, 1053, 'G', fontsize=15, ha='left', va='center')
ftext(184, 1088, 'Γ', fontsize=16, ha='left', va='center')
ftext(390, 1085, r'k$_\mathrm{B}$T', fontsize=15, ha='right', va='center')
ftext(284, 1114, PHI, fontsize=15, ha='center', va='center')

c2 = fig.add_axes(rect(433, 963, 659, 1130))
c2.plot(c2_x, c2_y, ms=4.0, ls='none', marker='o', mfc='#bdbdbd', mec='#8a8a8a', mew=0.6)
c2.set_xlim(0, 1)
c2.set_ylim(-0.293, 0.283)
frame(c2, 1.0, 4, 2, 12, SANS)
ticks(c2, 'x', 0.2, 0.1, '%.1f')
c2.yaxis.set_major_locator(FixedLocator([-0.2, -0.1, 0.0, 0.1, 0.2]))
c2.yaxis.set_major_formatter(FormatStrFormatter('%.1f'))
ftext(437, 976, r'I$_\mathrm{S}$ / I$_\mathrm{C}$(0)', fontsize=16, ha='left', va='center')
ftext(596, 1008, '(c)', family=SANS, fontsize=25, ha='center', va='center')
ftext(658, 1116, PHI, fontsize=16, ha='right', va='center')

fig.savefig('out.png', dpi=100)
